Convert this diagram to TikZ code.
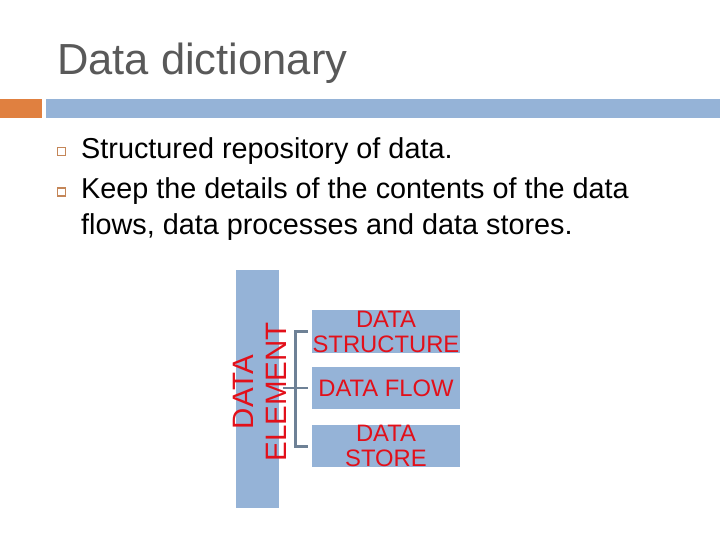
\documentclass[tikz,border=0pt]{standalone}
\usepackage{fontspec}
\setmainfont{Liberation Sans}
\definecolor{hdrblue}{RGB}{149,179,215}
\definecolor{hdrorange}{RGB}{224,128,64}
\definecolor{titlegray}{RGB}{89,89,89}
\definecolor{bulletor}{RGB}{196,134,88}
\definecolor{txtred}{RGB}{226,16,26}
\definecolor{conn}{RGB}{110,129,150}
\tikzset{
  bodytext/.style={anchor=base west, inner sep=0pt, font=\fontsize{28.8}{34}\selectfont, text=black},
  bulletbox/.style={draw=bulletor, line width=1.6pt, minimum size=8pt, inner sep=0pt},
  bluebox/.style={fill=hdrblue, draw=none, inner sep=0pt},
  redtext/.style={text=txtred, align=center, font=\fontsize{23.8}{25}\selectfont},
  connline/.style={draw=conn, line width=2.4pt}
}
\begin{document}
\begin{tikzpicture}[x=1pt,y=-1pt]
\useasboundingbox (0,0) rectangle (720,540);
% title
\node[anchor=base west, inner sep=0pt, text=titlegray, font=\fontsize{43.5}{50}\selectfont] (title) at (57,75) {Data dictionary};
% header bars
\fill[hdrorange] (0,99) rectangle (42,118);
\fill[hdrblue] (46,99) rectangle (720,118);
% bullets
\node[bulletbox] (b1) at (61.3,151.5) {};
\node[bulletbox] (b2) at (61.3,191.8) {};
\node[bodytext] (t1) at (81,159) {Structured repository of data.};
\node[bodytext] (t2) at (81,199) {Keep the details of the contents of the data};
\node[bodytext] (t3) at (81,234) {flows, data processes and data stores.};
% diagram
\node[bluebox, minimum width=43pt, minimum height=238pt] (bar) at (257.5,389) {};
\node[redtext, rotate=90, font=\fontsize{29.5}{33}\selectfont] (bartext) at (260,392) {DATA\\ELEMENT};
\node[bluebox, minimum width=148pt, minimum height=43pt, redtext] (s) at (386,331.5) {DATA\\STRUCTURE};
\node[bluebox, minimum width=148pt, minimum height=42pt, redtext] (f) at (386,388) {DATA FLOW};
\node[bluebox, minimum width=148pt, minimum height=42pt, redtext] (d) at (386,446) {DATA\\STORE};
% connector
\coordinate (jt) at (295.5,331.5);
\coordinate (jb) at (295.5,446.5);
\draw[connline] ([xshift=-4pt]s.west |- jt) -- (jt) -- (jb) -- ([xshift=-4pt]d.west |- jb);
\draw[connline] ([xshift=4pt]bar.east |- f.west) -- ([xshift=-4pt]f.west);
\end{tikzpicture}
\end{document}
